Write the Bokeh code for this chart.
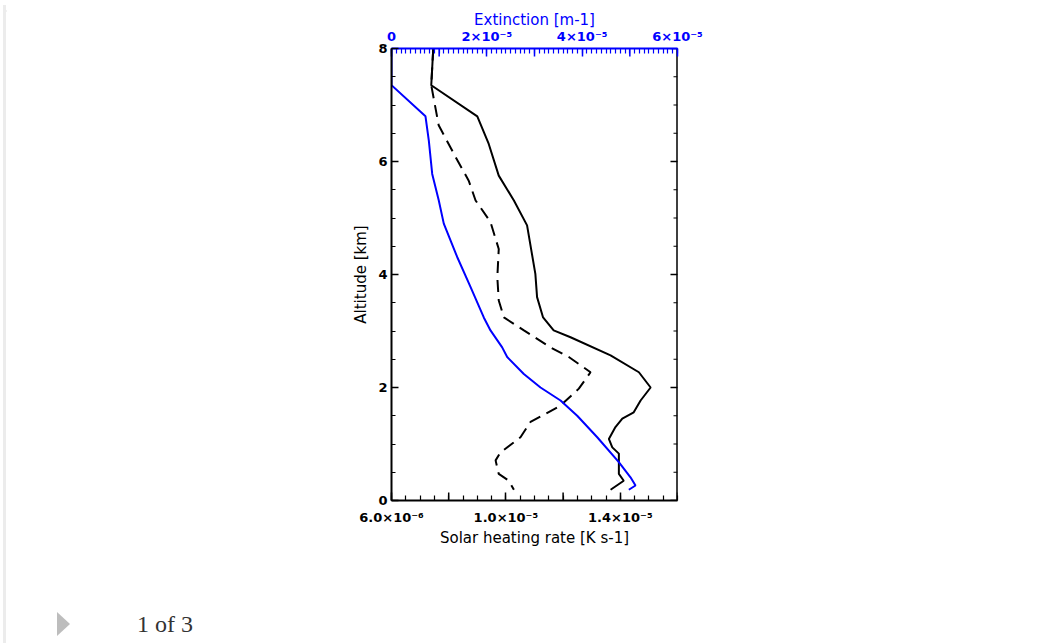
from bokeh.plotting import figure
from bokeh.models import (Range1d, LinearAxis, FixedTicker, Div)
from bokeh.layouts import column, row
from bokeh.embed import file_html
from bokeh.resources import INLINE

# ---- data ----
alt_solid = [8.0, 7.35, 6.8, 6.31, 5.75, 5.31, 4.87, 4.01, 3.6, 3.24, 3.01, 2.89, 2.57,
             2.27, 2.0, 1.77, 1.56, 1.45, 1.30, 1.09, 0.94, 0.83, 0.47, 0.35, 0.19]
heat_solid = [7.46e-6, 7.39e-6, 9.0e-6, 9.40e-6, 9.75e-6, 1.028e-5, 1.074e-5, 1.103e-5,
              1.109e-5, 1.130e-5, 1.167e-5, 1.226e-5, 1.366e-5, 1.465e-5, 1.506e-5,
              1.471e-5, 1.447e-5, 1.407e-5, 1.383e-5, 1.360e-5, 1.372e-5, 1.395e-5,
              1.395e-5, 1.412e-5, 1.366e-5]

alt_dashed = [8.0, 7.35, 6.64, 6.08, 5.66, 5.31, 4.93, 4.45, 3.95, 3.54, 3.24, 3.01, 2.71,
              2.54, 2.27, 1.98, 1.68, 1.39, 1.12, 1.03, 0.85, 0.71, 0.47, 0.35, 0.19]
heat_dashed = [7.46e-6, 7.39e-6, 7.65e-6, 8.24e-6, 8.70e-6, 8.94e-6, 9.46e-6, 9.75e-6,
               9.70e-6, 9.75e-6, 9.93e-6, 1.063e-5, 1.156e-5, 1.220e-5, 1.296e-5,
               1.255e-5, 1.191e-5, 1.086e-5, 1.051e-5, 1.028e-5, 9.81e-6, 9.64e-6,
               9.75e-6, 1.010e-5, 1.028e-5]

alt_ext = [8.0, 7.35, 6.8, 6.37, 5.78, 5.31, 4.90, 4.31, 3.78, 3.24, 3.01, 2.71, 2.54,
           2.24, 2.0, 1.77, 1.50, 1.12, 0.68, 0.41, 0.265, 0.19]
extinction = [0.0, 0.0, 0.713e-5, 0.783e-5, 0.854e-5, 0.992e-5, 1.097e-5, 1.378e-5,
              1.657e-5, 1.936e-5, 2.077e-5, 2.322e-5, 2.427e-5, 2.776e-5, 3.126e-5,
              3.546e-5, 3.896e-5, 4.316e-5, 4.769e-5, 5.014e-5, 5.119e-5, 4.979e-5]

# tick values / labels
bottom_label_ticks = [6e-6, 1e-5, 1.4e-5]
bottom_tick_labels = ["6.0×10⁻⁶", "1.0×10⁻⁵", "1.4×10⁻⁵"]
bottom_plain_ticks = [8e-6, 1.2e-5, 1.6e-5]
top_label_ticks = [0.0, 2e-5, 4e-5, 6e-5]
top_tick_labels = ["0", "2×10⁻⁵", "4×10⁻⁵", "6×10⁻⁵"]
top_plain_ticks = [1e-5, 3e-5, 5e-5]
alt_ticks = [0, 2, 4, 6, 8]
alt_minor = [0.5 * i for i in range(17)]

BLUE = "#0000ff"
FONT = "DejaVu Sans"
X0, X1, Y0, Y1, E0, E1 = 6e-6, 1.6e-5, 0.0, 8.0, 0.0, 6e-5
FRAME_W, FRAME_H = 286, 452

p = figure(width=1031, height=595, output_backend="svg", toolbar_location=None,
           x_range=Range1d(X0, X1), y_range=Range1d(Y0, Y1),
           x_axis_location=None, y_axis_location=None,
           min_border_left=385, min_border_right=360, min_border_top=43,
           min_border_bottom=100, margin=0)
p.extra_x_ranges = {"ext": Range1d(E0, E1)}
p.outline_line_color = None
p.grid.visible = False
p.background_fill_color = "white"
p.border_fill_color = "white"


def style(ax, color="black", major_in=8, minor_in=4):
    ax.axis_line_color = color
    ax.axis_line_width = 2
    ax.major_tick_line_color = color
    ax.minor_tick_line_color = color
    ax.major_tick_line_width = 1.5
    ax.minor_tick_line_width = 1.2
    ax.major_tick_in = major_in
    ax.major_tick_out = 0
    ax.minor_tick_in = minor_in
    ax.minor_tick_out = 0
    ax.major_label_text_color = color
    ax.axis_label_text_color = color
    ax.major_label_text_font = FONT
    ax.axis_label_text_font = FONT
    ax.major_label_text_font_size = "13px"
    ax.axis_label_text_font_size = "15px"
    ax.axis_label_text_font_style = "normal"
    ax.major_label_text_font_style = "bold"


bminor = [X0 + i * 5e-7 for i in range(21)]
bottom = LinearAxis(ticker=FixedTicker(ticks=bottom_label_ticks, minor_ticks=bminor),
                    axis_label="Solar heating rate [K s-1]")
style(bottom, major_in=8, minor_in=5)
bottom.major_label_overrides = dict(zip(bottom_label_ticks, bottom_tick_labels))
bottom.major_label_standoff = 9
bottom.axis_label_standoff = 1
p.add_layout(bottom, "below")

left = LinearAxis(ticker=FixedTicker(ticks=alt_ticks, minor_ticks=alt_minor),
                  axis_label="Altitude [km]")
style(left, major_in=7, minor_in=4)
left.major_label_standoff = 4
left.axis_label_standoff = 5
p.add_layout(left, "left")

tminor = [i * 1e-6 for i in range(61)]
top = LinearAxis(x_range_name="ext",
                 ticker=FixedTicker(ticks=top_label_ticks, minor_ticks=tminor),
                 axis_label="Extinction [m-1]")
style(top, color=BLUE, major_in=8, minor_in=5)
top.major_label_overrides = dict(zip(top_label_ticks, top_tick_labels))
top.major_label_standoff = 5
top.axis_label_standoff = -3
p.add_layout(top, "above")

# right frame edge with inward ticks (no labels)
px_x = (X1 - X0) / FRAME_W
px_y = (Y1 - Y0) / FRAME_H
p.segment(x0=[X1] * 2, y0=[Y0, Y0], x1=[X1] * 2, y1=[Y1, Y1], line_color="black",
          line_width=2)
p.segment(x0=[X1] * len(alt_minor), y0=alt_minor,
          x1=[X1 - 4 * px_x] * len(alt_minor), y1=alt_minor,
          line_color="black", line_width=1.2)
p.segment(x0=[X1] * len(alt_ticks), y0=alt_ticks,
          x1=[X1 - 7 * px_x] * len(alt_ticks), y1=alt_ticks,
          line_color="black", line_width=1.5)
# unlabeled major ticks on bottom / top
p.segment(x0=bottom_plain_ticks, y0=[Y0] * 3, x1=bottom_plain_ticks,
          y1=[Y0 + 8 * px_y] * 3, line_color="black", line_width=1.5)
p.segment(x0=top_plain_ticks, y0=[Y1] * 3, x1=top_plain_ticks,
          y1=[Y1 - 8 * px_y] * 3, line_color=BLUE, line_width=1.5,
          x_range_name="ext")

# ---- curves ----
p.line(heat_solid, alt_solid, line_color="black", line_width=2)
p.line(heat_dashed, alt_dashed, line_color="black", line_width=2, line_dash="12 7")
p.line(extinction, alt_ext, line_color=BLUE, line_width=2, x_range_name="ext")

# ---- page decorations around the chart ----
top_strip = Div(width=1037, height=5, margin=0, text=(
    '<div style="position:relative;width:1037px;height:5px;">'
    '<div style="position:absolute;left:3px;top:3px;width:1034px;height:2px;'
    'background:#ececec;"></div></div>'))
left_strip = Div(width=6, height=638, margin=0, text=(
    '<div style="position:relative;width:6px;height:638px;">'
    '<div style="position:absolute;left:3px;top:0px;width:3px;height:638px;'
    'background:#ececec;"></div></div>'))
footer = Div(width=1031, height=43, margin=0, text=(
    '<div style="position:relative;width:1031px;height:43px;">'
    '<div style="position:absolute;left:51px;top:12px;width:0;height:0;'
    'border-top:12px solid transparent;border-bottom:12px solid transparent;'
    'border-left:13px solid #bdbdbd;"></div>'
    '<div style="position:absolute;left:131px;top:9px;font-family:\'Liberation Serif\';'
    'font-size:24px;line-height:30px;color:#333333;white-space:nowrap;">1 of 3</div>'
    '</div>'))

layout = column(top_strip,
                row(left_strip, column(p, footer, spacing=0, margin=0), spacing=0, margin=0),
                spacing=0, margin=0)

open("out.html", "w").write(file_html(layout, INLINE))
